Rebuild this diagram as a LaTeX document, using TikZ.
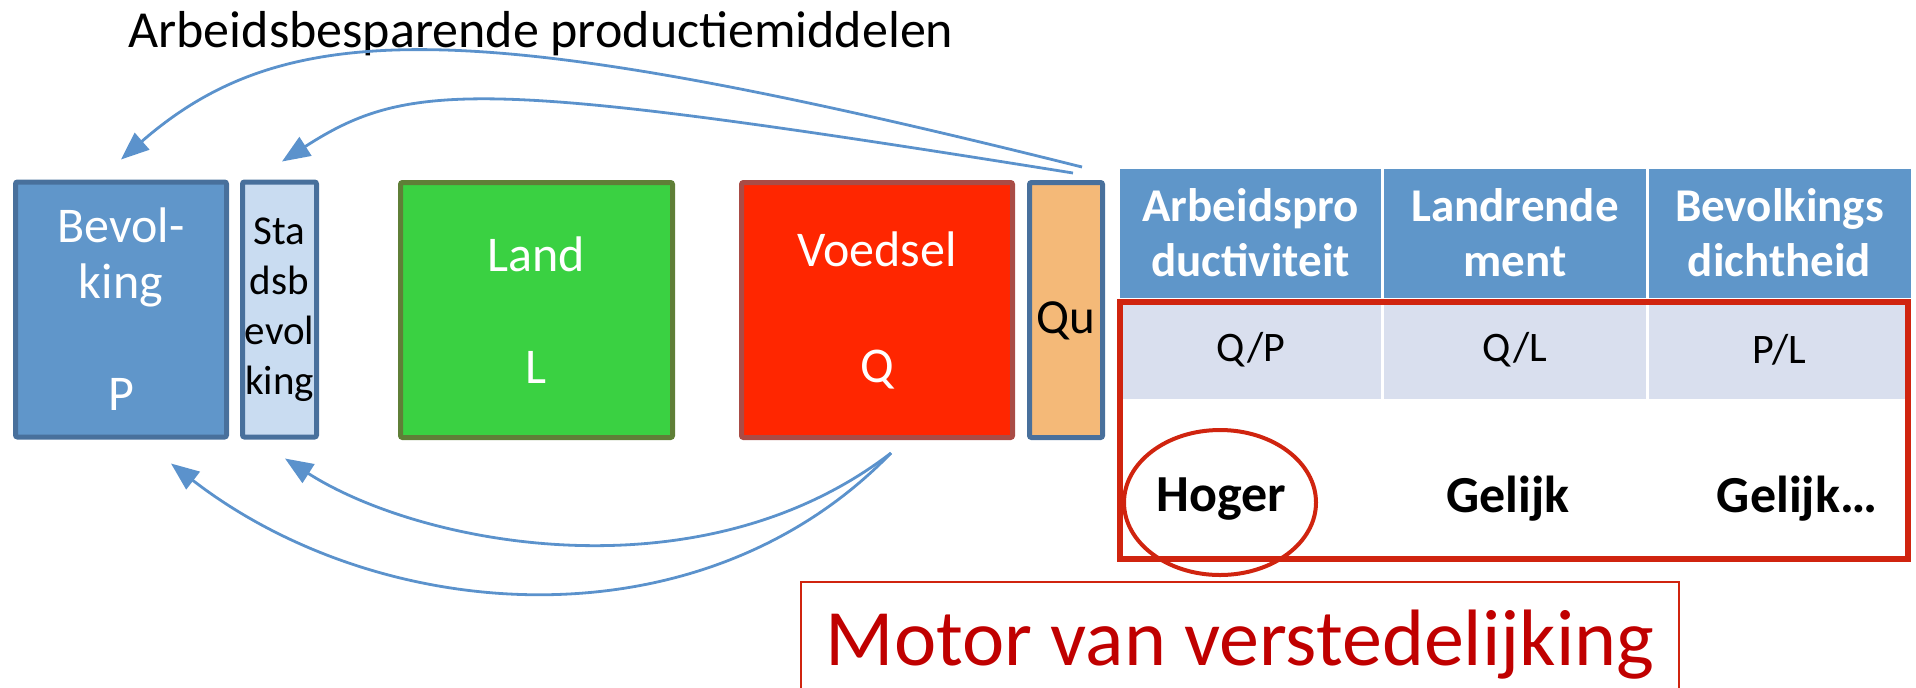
\documentclass[tikz,border=0pt]{standalone}
\usepackage{fontspec}
\setmainfont{Carlito}
\usepackage{tikz}
\usetikzlibrary{arrows.meta, shapes.geometric}
\definecolor{bevblue}{HTML}{6096CA}
\definecolor{bevedge}{HTML}{48709C}
\definecolor{stadblue}{HTML}{C9DCF1}
\definecolor{landgreen}{HTML}{3AD142}
\definecolor{landedge}{HTML}{5F7F37}
\definecolor{voedselred}{HTML}{FF2600}
\definecolor{voedseledge}{HTML}{A94C46}
\definecolor{quorange}{HTML}{F4B978}
\definecolor{tabblue}{HTML}{5F96C9}
\definecolor{tabgrey}{HTML}{D9DFEE}
\definecolor{framered}{HTML}{D0240F}
\definecolor{motorred}{HTML}{C00000}
\definecolor{pijlblue}{HTML}{5B92CC}

\begin{document}
\begin{tikzpicture}[x=0.5pt, y=-0.5pt,
  vak/.style={draw, line width=2.5pt, rounded corners=1pt, minimum height=127.5pt, align=center, inner sep=0pt, font=\fontsize{25}{28}\selectfont},
  kop/.style={fill=tabblue, draw=white, line width=1.5pt, minimum width=132.5pt, minimum height=66pt, text=white, align=center, font=\fontsize{23.5}{27.5}\selectfont\bfseries},
  cel/.style={fill=tabgrey, draw=white, line width=1.5pt, minimum width=132.5pt, minimum height=50.5pt, font=\fontsize{21}{25}\selectfont},
  uitkomst/.style={font=\fontsize{26}{30}\selectfont\bfseries},
  pijl/.style={pijlblue, line width=1.4pt, -{Triangle[length=14pt, width=11pt]}}]
\useasboundingbox (0,0) rectangle (1916,687);

\node[anchor=base west, inner sep=0pt, font=\fontsize{26}{30}\selectfont] (titel) at (128,47) {Arbeidsbesparende productiemiddelen};

\node[vak, draw=bevedge, fill=bevblue, text=white, minimum width=105.5pt] (bevolking) at (121,309.5) {Bevol-\\king\\[28pt]P};
\node[vak, draw=bevedge, fill=stadblue, minimum width=37pt, font=\fontsize{20.5}{25}\selectfont] (stad) at (279.5,309.5) {Sta\\dsb\\evol\\king};
\node[vak, draw=landedge, fill=landgreen, text=white, minimum width=136pt] (land) at (536.5,310) {Land\\[28pt]L};
\node[vak, draw=voedseledge, fill=voedselred, text=white, minimum width=135.5pt] (voedsel) at (877,310) {Voedsel\\[30pt]Q};
\node[vak, draw=bevedge, fill=quorange, minimum width=36.5pt, font=\fontsize{24.5}{29}\selectfont, text height=24pt, text depth=1pt] (qu) at (1066,310) {Qu};

\node[kop] (kop1) at (1250.5,233) {Arbeidspro\\ductiviteit};
\node[kop] (kop2) at (1515,233) {Landrende\\ment};
\node[kop] (kop3) at (1779.5,233) {Bevolkings\\dichtheid};
\node[cel] (cel1) at (1250.5,349.5) {Q/P};
\node[cel] (cel2) at (1515,349.5) {Q/L};
\node[cel] (cel3) at (1779.5,349.5) {P/L};
\node[uitkomst] (hoger) at (1221,499) {Hoger};
\node[uitkomst] (gelijk) at (1508,499) {Gelijk};
\node[uitkomst] (gelijkpunt) at (1797,499) {Gelijk…};

\draw[framered, line width=3pt] (1119.5,302) rectangle (1908,558.5);
\node[ellipse, draw=framered, line width=2pt, minimum width=96pt, minimum height=72.5pt] (ring) at (1220,502.5) {};

\node[draw=framered, line width=1pt, minimum width=439pt, minimum height=63pt, inner sep=0pt, text=motorred, font=\fontsize{40}{48}\selectfont] (motor) at (1240,645) {Motor van verstedelijking};

\draw[pijl] ([xshift=8pt, yshift=6.5pt]qu.north) .. controls (474,15) and (287,15) .. ([yshift=10pt]bevolking.north);
\draw[pijl] ([xshift=3.5pt, yshift=3.5pt]qu.north) .. controls (486,79) and (410,79) .. ([xshift=1.25pt, yshift=9pt]stad.north);
\draw[pijl] ([xshift=7pt, yshift=-6.5pt]voedsel.south) .. controls (700,650) and (380,625) .. ([xshift=25pt, yshift=-12pt]bevolking.south);
\draw[pijl] ([xshift=7pt, yshift=-6.5pt]voedsel.south) .. controls (700,600) and (420,545) .. ([xshift=2.75pt, yshift=-9.5pt]stad.south);
\end{tikzpicture}
\end{document}
